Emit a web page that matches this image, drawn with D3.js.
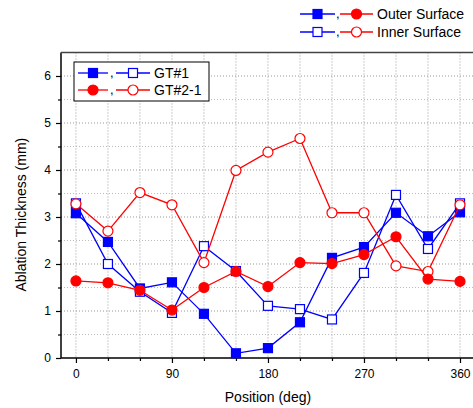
<!DOCTYPE html>
<html>
<head>
<meta charset="utf-8">
<script src="https://cdn.jsdelivr.net/npm/d3@7"></script>
<style>
  body { margin: 0; background: #fff; }
  svg { display: block; font-family: "Liberation Sans", Arial, sans-serif; }
</style>
</head>
<body>
<svg id="chart" width="473" height="408"></svg>
<script>
// data
const positions = [0, 30, 60, 90, 120, 150, 180, 210, 240, 270, 300, 330, 360];
const gt1Outer  = [3.08, 2.47, 1.48, 1.61, 0.94, 0.10, 0.21, 0.76, 2.13, 2.36, 3.09, 2.59, 3.10];
const gt1Inner  = [3.29, 2.00, 1.41, 0.96, 2.38, 1.85, 1.11, 1.04, 0.82, 1.81, 3.47, 2.32, 3.29];
const gt2Outer  = [1.64, 1.60, 1.44, 1.02, 1.50, 1.84, 1.52, 2.03, 2.01, 2.20, 2.58, 1.68, 1.63];
const gt2Inner  = [3.28, 2.70, 3.52, 3.26, 2.03, 3.99, 4.38, 4.67, 3.09, 3.09, 1.96, 1.84, 3.26];

const xTicks = [0, 90, 180, 270, 360];
const xMinor = [30, 60, 120, 150, 210, 240, 300, 330];
const yTicks = [0, 1, 2, 3, 4, 5, 6];
const yMinor = [0.5, 1.5, 2.5, 3.5, 4.5, 5.5];

const BLUE = "#0000ff";
const RED = "#ff0000";

const svg = d3.select("#chart");

const x = d3.scaleLinear().domain([-14, 375]).range([61, 476]);
const y = d3.scaleLinear().domain([0, 6.5]).range([358, 52.5]);

// grid
const grid = svg.append("g");
grid.selectAll("line.vg")
  .data(positions)
  .enter().append("line")
  .attr("x1", d => x(d)).attr("x2", d => x(d))
  .attr("y1", y(6.5)).attr("y2", y(0))
  .attr("stroke", "#999").attr("stroke-width", 1)
  .attr("stroke-dasharray", "1,2");

grid.selectAll("line.hg")
  .data(yTicks.slice(1).concat(yMinor))
  .enter().append("line")
  .attr("x1", x(-14)).attr("x2", x(375))
  .attr("y1", d => y(d)).attr("y2", d => y(d))
  .attr("stroke", d => Number.isInteger(d) ? "#999" : "#bbb")
  .attr("stroke-width", 1)
  .attr("stroke-dasharray", "1,2");

// axes
const xAxis = d3.axisBottom(x).tickValues(xTicks).tickSize(5).tickPadding(6);
const xAxisMinor = d3.axisBottom(x).tickValues(xMinor).tickSize(3).tickFormat("");
const yAxis = d3.axisLeft(y).tickValues(yTicks).tickSize(5).tickPadding(5).tickFormat(d3.format("d"));
const yAxisMinor = d3.axisLeft(y).tickValues(yMinor).tickSize(3).tickFormat("");

function styleAxis(g) {
  g.select(".domain").remove();
  g.selectAll(".tick line").attr("stroke", "#000").attr("stroke-width", 1.2);
  g.selectAll("text").attr("font-size", 12).attr("fill", "#000")
    .attr("font-family", "Liberation Sans, Arial, sans-serif");
}

svg.append("g").attr("transform", `translate(0,${y(0)})`).call(xAxis).call(styleAxis);
svg.append("g").attr("transform", `translate(0,${y(0)})`).call(xAxisMinor).call(styleAxis);
svg.append("g").attr("transform", `translate(${x(-14)},0)`).call(yAxis).call(styleAxis);
svg.append("g").attr("transform", `translate(${x(-14)},0)`).call(yAxisMinor).call(styleAxis);

// frame lines
svg.append("line")
  .attr("x1", x(-14)).attr("x2", x(375)).attr("y1", y(0)).attr("y2", y(0))
  .attr("stroke", "#000").attr("stroke-width", 1.5);
svg.append("line")
  .attr("x1", x(-14)).attr("x2", x(-14)).attr("y1", y(0)).attr("y2", y(6.5))
  .attr("stroke", "#000").attr("stroke-width", 1.5);
svg.append("line")
  .attr("x1", x(-14)).attr("x2", x(375)).attr("y1", y(6.5)).attr("y2", y(6.5))
  .attr("stroke", "#444").attr("stroke-width", 1.5);

// axis titles
svg.append("text")
  .attr("x", x(180)).attr("y", 402)
  .attr("text-anchor", "middle")
  .attr("font-size", 14)
  .text("Position (deg)");

svg.append("text")
  .attr("transform", `translate(26,${y(3.05)}) rotate(-90)`)
  .attr("text-anchor", "middle")
  .attr("font-size", 14)
  .text("Ablation Thickness (mm)");

// series
const series = [
  { vals: gt1Inner, color: BLUE, shape: "square", filled: false },
  { vals: gt1Outer, color: BLUE, shape: "square", filled: true },
  { vals: gt2Inner, color: RED, shape: "circle", filled: false },
  { vals: gt2Outer, color: RED, shape: "circle", filled: true }
];

const line = d3.line()
  .x((d, i) => x(positions[i]))
  .y(d => y(d));

function drawMarker(g, shape, color, filled, cx, cy) {
  if (shape === "square") {
    g.append("rect")
      .attr("x", cx - 4.5).attr("y", cy - 4.5)
      .attr("width", 9).attr("height", 9)
      .attr("fill", filled ? color : "#fff")
      .attr("stroke", color).attr("stroke-width", 1.2);
  } else {
    g.append("circle")
      .attr("cx", cx).attr("cy", cy).attr("r", 5)
      .attr("fill", filled ? color : "#fff")
      .attr("stroke", color).attr("stroke-width", 1.2);
  }
}

series.forEach(s => {
  const g = svg.append("g");
  g.append("path")
    .datum(s.vals)
    .attr("d", line)
    .attr("fill", "none")
    .attr("stroke", s.color)
    .attr("stroke-width", 1.3);
  s.vals.forEach((v, i) => drawMarker(g, s.shape, s.color, s.filled, x(positions[i]), y(v)));
});

// legend pieces
function legendSymbol(g, x0, x1, cy, shape, color, filled) {
  g.append("line")
    .attr("x1", x0).attr("x2", x1).attr("y1", cy).attr("y2", cy)
    .attr("stroke", color).attr("stroke-width", 1.3);
  drawMarker(g, shape, color, filled, (x0 + x1) / 2, cy);
}

// top legend (outer / inner surface)
const topLegend = [
  { label: "Outer Surface", filled: true, cy: 14 },
  { label: "Inner Surface", filled: false, cy: 32 }
];
const tl = svg.append("g");
topLegend.forEach(d => {
  legendSymbol(tl, 300, 335, d.cy, "square", BLUE, d.filled);
  tl.append("text").attr("x", 336).attr("y", d.cy + 4).attr("font-size", 13).text(",");
  legendSymbol(tl, 340, 373, d.cy, "circle", RED, d.filled);
  tl.append("text").attr("x", 377).attr("y", d.cy + 5).attr("font-size", 14).text(d.label);
});

// inner legend (GT#1 / GT#2-1)
const boxLegend = [
  { label: "GT#1", shape: "square", color: BLUE, cy: 73 },
  { label: "GT#2-1", shape: "circle", color: RED, cy: 90 }
];
const bl = svg.append("g");
bl.append("rect")
  .attr("x", 74).attr("y", 62).attr("width", 135).attr("height", 39)
  .attr("fill", "#fff").attr("stroke", "#000").attr("stroke-width", 1);
boxLegend.forEach(d => {
  legendSymbol(bl, 78, 108, d.cy, d.shape, d.color, true);
  bl.append("text").attr("x", 110).attr("y", d.cy + 4).attr("font-size", 13).text(",");
  legendSymbol(bl, 116, 150, d.cy, d.shape, d.color, false);
  bl.append("text").attr("x", 154).attr("y", d.cy + 5).attr("font-size", 14).text(d.label);
});
</script>
</body>
</html>
